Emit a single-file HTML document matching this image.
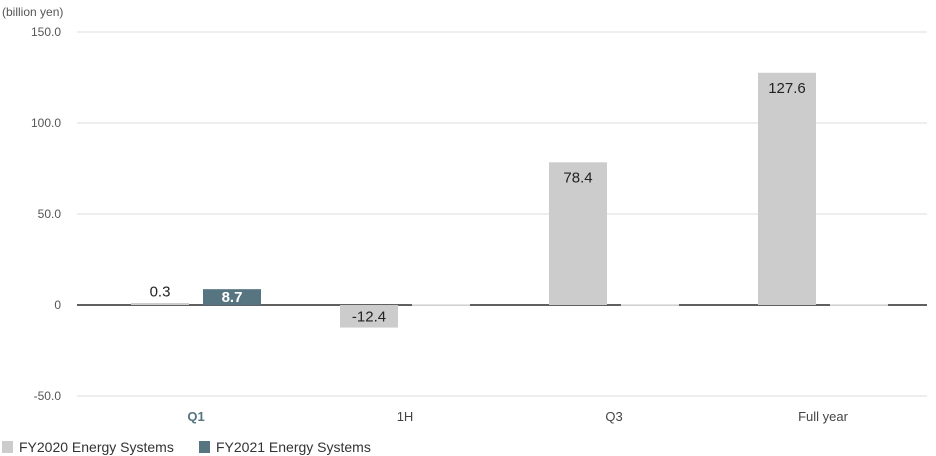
<!DOCTYPE html>
<html><head><meta charset="utf-8"><style>
body{margin:0;background:#fff;}
svg{display:block;font-family:"Liberation Sans",sans-serif;}
</style></head><body>
<svg id="chart" width="936" height="456">
<text x="2" y="16" font-size="12" fill="#555">(billion yen)</text>
<g id="grid"></g><g id="bars"></g><g id="xlabels"></g>
<g>
<rect x="2" y="441" width="11" height="12" fill="#cccccc"/>
<text x="19" y="452" font-size="14" fill="#333">FY2020 Energy Systems</text>
<rect x="199" y="441" width="11" height="12" fill="#567580"/>
<text x="216" y="452" font-size="14" fill="#333">FY2021 Energy Systems</text>
</g>
</svg>
<script>
const categories=["Q1","1H","Q3","Full year"];
const fy2020=[0.3,-12.4,78.4,127.6];
const fy2021=[8.7,null,null,null];
const ticks=[150,100,50,0,-50];
const tickLabels=["150.0","100.0","50.0","0","-50.0"];
const NS="http://www.w3.org/2000/svg";
function y(v){return 305-v*1.82;}
function xc(i){return 196+i*209;}
function mk(tag,attrs,parent){const e=document.createElementNS(NS,tag);for(const k in attrs)e.setAttribute(k,attrs[k]);parent.appendChild(e);return e;}
const grid=document.getElementById('grid'),bars=document.getElementById('bars'),xl=document.getElementById('xlabels');
ticks.forEach((t,i)=>{
 const l=mk('line',{x1:77,x2:927,y1:y(t),y2:y(t),stroke:t===0?'#000':'#dcdcdc','stroke-width':t===0?1.3:1},grid);
 
 
 const tx=mk('text',{x:61,y:y(t)+4,'font-size':12,fill:'#555','text-anchor':'end'},grid);
 tx.textContent=tickLabels[i];
 
 
});
categories.forEach((c,i)=>{
 const t=mk('text',{x:xc(i),y:421,'font-size':13,fill:i===0?'#567580':'#444','text-anchor':'middle','font-weight':i===0?'bold':'normal'},xl);
 t.textContent=c;
 
 
 [[fy2020,'#cccccc',-65,'fy2020'],[fy2021,'#567580',7,'fy2021']].forEach(([arr,col,off,nm])=>{
  const v=arr[i];const x=xc(i)+off;
  if(v===null){
   const r=mk('rect',{x:x,y:y(0)-1,width:58,height:1.5,fill:'#e4e4e4'},bars);
   
   
   return;
  }
  const top=Math.min(y(v),y(0)),h=Math.max(Math.abs(y(v)-y(0)),2);
  const r=mk('rect',{x:x,y:v>=0?y(0)-h:y(0),width:58,height:h,fill:col},bars);
  
  
  let ly, fill='#222', fw='normal';
  if(nm==='fy2021'){ly=y(0)-3;fill='#fff';fw='bold';}
  else if(v<0){ly=y(v)-6;}
  else if(h<20){ly=y(v)-8;}
  else ly=y(v)+20;
  const lt=mk('text',{x:x+29,y:ly,'font-size':15,fill:fill,'font-weight':fw,'text-anchor':'middle'},bars);
  lt.textContent=v.toFixed(1);
  
  
 });
});
</script>
</body></html>
